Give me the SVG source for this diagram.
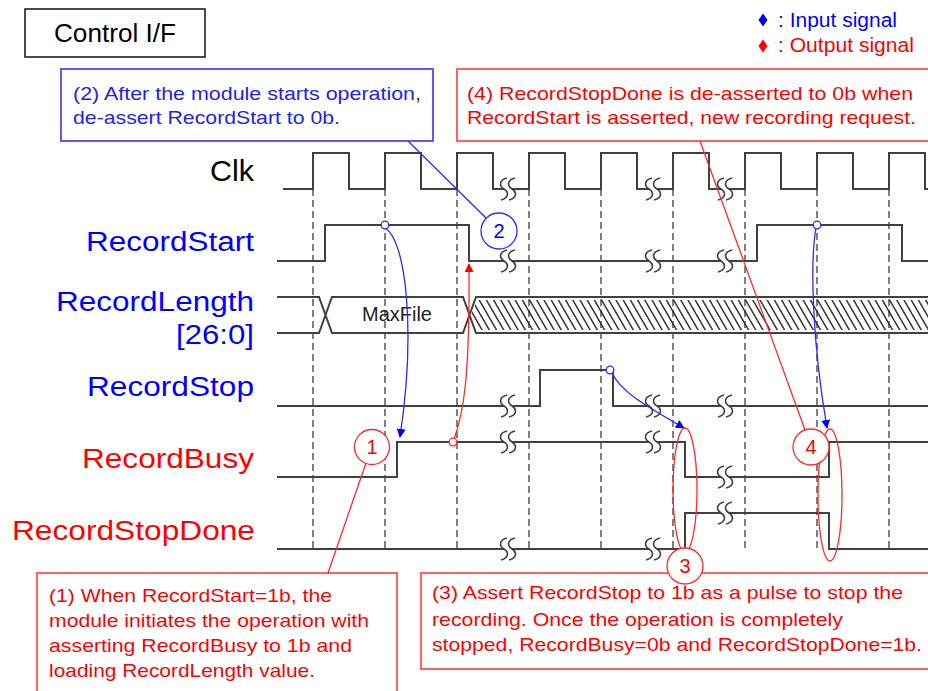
<svg xmlns="http://www.w3.org/2000/svg" xmlns:xlink="http://www.w3.org/1999/xlink" width="928" height="691" viewBox="0 0 928 691">
  <style>
    text { font-family: "Liberation Sans", Arial, sans-serif; }
    .wave { fill: none; stroke: #404040; stroke-width: 2; }
    .grid { fill: none; stroke: #606060; stroke-width: 1.6; stroke-dasharray: 7 4; }
    .sig { font-size: 27px; }
    .in { fill: #0000ff; }
    .out { fill: #ff0000; }
    .note { font-size: 19px; }
    .rbox { fill: #ffffff; stroke: #ff6060; stroke-width: 2; }
    .bbox { fill: #ffffff; stroke: #5a5aff; stroke-width: 2; }
    .rline { fill: none; stroke: #ff2a2a; stroke-width: 1.3; }
    .bline { fill: none; stroke: #2a2aff; stroke-width: 1.3; }
    .num { font-size: 20px; text-anchor: middle; }
    .brk path { fill: none; stroke: #404040; stroke-width: 1.6; }
  </style>
  <defs>
    <pattern id="hatch" patternUnits="userSpaceOnUse" width="7.2" height="8" patternTransform="skewX(30)">
      <line x1="3.6" y1="0" x2="3.6" y2="8" stroke="#262626" stroke-width="1.6"/>
    </pattern>
    <!-- break mark: gap in the line and two S strokes -->
    <g id="brk" class="brk">
      <rect x="-4" y="-3" width="8" height="6" fill="#ffffff"/>
      <path d="M-1,-11 C-9,-9 -9,-3 -4,0 C1,3 1,9 -7,11"/>
      <path d="M7,-11 C-1,-9 -1,-3 4,0 C9,3 9,9 1,11"/>
    </g>
    <marker id="ahBlue" viewBox="0 0 10 10" refX="9" refY="5" markerWidth="9" markerHeight="9" markerUnits="userSpaceOnUse" orient="auto">
      <path d="M0,0 L10,5 L0,10 Z" fill="#0000ff"/>
    </marker>
    <marker id="ahRed" viewBox="0 0 10 10" refX="9" refY="5" markerWidth="9" markerHeight="9" markerUnits="userSpaceOnUse" orient="auto">
      <path d="M0,0 L10,5 L0,10 Z" fill="#ff0000"/>
    </marker>
  </defs>

  <rect width="928" height="691" fill="#ffffff"/>

  <!-- title -->
  <g id="title">
    <rect x="25" y="9" width="180" height="48" fill="#ffffff" stroke="#202020" stroke-width="1.6"/>
    <text x="54" y="42" font-size="26" fill="#000000" textLength="122" lengthAdjust="spacingAndGlyphs">Control I/F</text>
  </g>

  <!-- legend -->
  <g id="legend">
    <polygon points="763,13.5 767.5,20 763,26.5 758.5,20" fill="#0000ff"/>
    <text x="778" y="27" font-size="20" class="in" textLength="119" lengthAdjust="spacingAndGlyphs">: Input signal</text>
    <polygon points="763,39.5 767.5,46 763,52.5 758.5,46" fill="#ff0000"/>
    <text x="778" y="52" font-size="20" class="out" textLength="136" lengthAdjust="spacingAndGlyphs">: Output signal</text>
  </g>

  <!-- clock edge reference lines -->
  <g id="grid" class="grid">
    <line x1="313" y1="189" x2="313" y2="550"/>
    <line x1="385" y1="189" x2="385" y2="550"/>
    <line x1="457" y1="189" x2="457" y2="550"/>
    <line x1="529" y1="189" x2="529" y2="550"/>
    <line x1="601" y1="189" x2="601" y2="550"/>
    <line x1="673" y1="189" x2="673" y2="550"/>
    <line x1="745" y1="189" x2="745" y2="550"/>
    <line x1="817" y1="189" x2="817" y2="550"/>
    <line x1="889" y1="189" x2="889" y2="550"/>
  </g>

  <!-- signals -->
  <g id="sig-clk">
    <text x="210" y="181" font-size="29" fill="#000000" textLength="44" lengthAdjust="spacingAndGlyphs">Clk</text>
    <path class="wave" d="M283,189 H313 V153 H349 V189 H385 V153 H421 V189 H457 V153 H493 V189 H529 V153 H565 V189 H601 V153 H637 V189 H673 V153 H709 V189 H745 V153 H781 V189 H817 V153 H853 V189 H889 V153 H925 V189 H928"/>
    <use href="#brk" x="508" y="189"/>
    <use href="#brk" x="653" y="189"/>
    <use href="#brk" x="725" y="189"/>
  </g>

  <g id="sig-recordstart">
    <text x="86" y="251" class="sig in" textLength="168" lengthAdjust="spacingAndGlyphs">RecordStart</text>
    <path class="wave" d="M277,261 H325 V225 H469 V261 H757 V225 H902 V261 H928"/>
    <use href="#brk" x="508" y="261"/>
    <use href="#brk" x="653" y="261"/>
    <use href="#brk" x="725" y="261"/>
  </g>

  <g id="sig-recordlength">
    <text x="56" y="311" class="sig in" textLength="198" lengthAdjust="spacingAndGlyphs">RecordLength</text>
    <text x="176" y="344" class="sig in" textLength="78" lengthAdjust="spacingAndGlyphs">[26:0]</text>
    <polygon points="477,300 471,315 477,330 928,330 928,300" fill="url(#hatch)"/>
    <path class="wave" d="M277,297 H319 L332,333 H463 L476,297 H928 M277,333 H319 L332,297 H463 L476,333 H928"/>
    <text x="397" y="321" font-size="20" fill="#222222" text-anchor="middle">MaxFile</text>
  </g>

  <g id="sig-recordstop">
    <text x="87" y="396" class="sig in" textLength="167" lengthAdjust="spacingAndGlyphs">RecordStop</text>
    <path class="wave" d="M277,406 H540 V370 H613 V406 H928"/>
    <use href="#brk" x="508" y="406"/>
    <use href="#brk" x="653" y="406"/>
    <use href="#brk" x="725" y="406"/>
  </g>

  <g id="sig-recordbusy">
    <text x="82" y="468" class="sig out" textLength="172" lengthAdjust="spacingAndGlyphs">RecordBusy</text>
    <path class="wave" d="M277,477 H397 V442 H685 V477 H829 V442 H928"/>
    <use href="#brk" x="508" y="442"/>
    <use href="#brk" x="653" y="442"/>
    <use href="#brk" x="725" y="477"/>
  </g>

  <g id="sig-recordstopdone">
    <text x="12" y="540" class="sig out" textLength="243" lengthAdjust="spacingAndGlyphs">RecordStopDone</text>
    <path class="wave" d="M277,549 H685 V513 H829 V549 H928"/>
    <use href="#brk" x="508" y="549"/>
    <use href="#brk" x="653" y="549"/>
    <use href="#brk" x="725" y="513"/>
  </g>

  <!-- note boxes -->
  <g id="note-2">
    <rect class="bbox" x="61" y="69" width="372" height="72"/>
    <text class="note" fill="#2222ee" x="73" y="100" textLength="348" lengthAdjust="spacingAndGlyphs">(2) After the module starts operation,</text>
    <text class="note" fill="#2222ee" x="73" y="124" textLength="267" lengthAdjust="spacingAndGlyphs">de-assert RecordStart to 0b.</text>
  </g>

  <g id="note-4">
    <rect class="rbox" x="457" y="69" width="490" height="72"/>
    <text class="note out" x="467" y="100" textLength="446" lengthAdjust="spacingAndGlyphs">(4) RecordStopDone is de-asserted to 0b when</text>
    <text class="note out" x="467" y="124" textLength="449" lengthAdjust="spacingAndGlyphs">RecordStart is asserted, new recording request.</text>
  </g>

  <g id="note-1">
    <rect class="rbox" x="37" y="573" width="360" height="140"/>
    <text class="note out" x="49" y="602" textLength="283" lengthAdjust="spacingAndGlyphs">(1) When RecordStart=1b, the</text>
    <text class="note out" x="49" y="627" textLength="320" lengthAdjust="spacingAndGlyphs">module initiates the operation with</text>
    <text class="note out" x="49" y="652" textLength="303" lengthAdjust="spacingAndGlyphs">asserting RecordBusy to 1b and</text>
    <text class="note out" x="49" y="677" textLength="266" lengthAdjust="spacingAndGlyphs">loading RecordLength value.</text>
  </g>

  <g id="note-3">
    <rect class="rbox" x="421" y="573" width="530" height="96"/>
    <text class="note out" x="432" y="599" textLength="471" lengthAdjust="spacingAndGlyphs">(3) Assert RecordStop to 1b as a pulse to stop the</text>
    <text class="note out" x="432" y="626" textLength="411" lengthAdjust="spacingAndGlyphs">recording. Once the operation is completely</text>
    <text class="note out" x="432" y="651" textLength="490" lengthAdjust="spacingAndGlyphs">stopped, RecordBusy=0b and RecordStopDone=1b.</text>
  </g>

  <!-- connectors: cause/effect arrows and callout leaders -->
  <g id="connectors">
    <path class="bline" d="M385,228 C406,240 416,330 400,437" marker-end="url(#ahBlue)"/>
    <path class="rline" d="M454,439 C463,415 470,380 469,264" marker-end="url(#ahRed)"/>
    <path class="bline" d="M612,373 C621,392 646,406 684,428" marker-end="url(#ahBlue)"/>
    <path class="bline" d="M816,228 C810,262 812,340 827,428" marker-end="url(#ahBlue)"/>
    <line class="bline" x1="408" y1="141" x2="486" y2="218"/>
    <line class="rline" x1="700" y1="141" x2="805" y2="430"/>
    <line class="rline" x1="328" y1="573" x2="366" y2="463"/>
    <ellipse class="rline" cx="685" cy="490" rx="12" ry="62"/>
    <ellipse class="rline" cx="830" cy="495" rx="12" ry="66"/>
  </g>

  <!-- event markers on signal edges -->
  <g id="markers" stroke-width="1.3" fill="#ffffff">
    <circle cx="385" cy="225" r="3.8" stroke="#2a2aff"/>
    <circle cx="453" cy="442" r="3.8" stroke="#ff2a2a"/>
    <circle cx="610" cy="370" r="3.8" stroke="#2a2aff"/>
    <circle cx="817" cy="225" r="3.8" stroke="#2a2aff"/>
  </g>

  <!-- numbered badges -->
  <g id="badge-1">
    <circle cx="372" cy="447" r="17.5" fill="#ffffff" stroke="#ff2a2a" stroke-width="1.3"/>
    <text class="num out" x="372" y="454">1</text>
  </g>
  <g id="badge-2">
    <circle cx="499" cy="231" r="18" fill="#ffffff" stroke="#2a2aff" stroke-width="1.3"/>
    <text class="num in" x="499" y="238">2</text>
  </g>
  <g id="badge-3">
    <circle cx="685" cy="566" r="18" fill="#ffffff" stroke="#ff2a2a" stroke-width="1.3"/>
    <text class="num out" x="685" y="573">3</text>
  </g>
  <g id="badge-4">
    <circle cx="811" cy="447" r="18" fill="#ffffff" stroke="#ff2a2a" stroke-width="1.3"/>
    <text class="num out" x="811" y="454">4</text>
  </g>
</svg>
